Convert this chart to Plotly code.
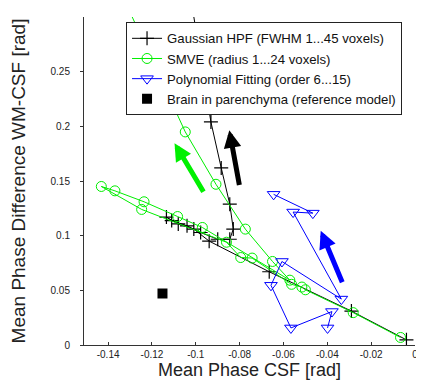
import plotly.graph_objects as go

# Gaussian HPF (FWHM 1...45 voxels)
gauss_x = [-0.0039, -0.0290, -0.0665, -0.0939, -0.1009, -0.1080, -0.1134, -0.1110, -0.1040,
           -0.0978, -0.0900, -0.0845, -0.0829, -0.0845, -0.0884, -0.0931, -0.1017]
gauss_y = [0.0047, 0.0310, 0.0670, 0.0950, 0.1060, 0.1107, 0.1170, 0.1138, 0.1090,
           0.1029, 0.0967, 0.0967, 0.1060, 0.1288, 0.1620, 0.2040, 0.3100]

# SMVE (radius 1...24 voxels)
smve_x = [-0.0066, -0.0282, -0.0500, -0.0516, -0.0563, -0.0743, -0.0795, -0.0860, -0.1247,
          -0.1431, -0.1369, -0.1236, -0.1083, -0.0970, -0.0571, -0.0650, -0.0774, -0.0908,
          -0.1048, -0.1313]
smve_y = [0.0069, 0.0296, 0.0505, 0.0530, 0.0555, 0.0795, 0.0800, 0.0940, 0.1240,
          0.1450, 0.1410, 0.1310, 0.1175, 0.1075, 0.0593, 0.0764, 0.1060, 0.1470,
          0.1949, 0.3100]

# Polynomial Fitting (order 6...15)
poly_x = [-0.0399, -0.0379, -0.0566, -0.0657, -0.0607, -0.0336, -0.0556, -0.0466, -0.0645]
poly_y = [0.0156, 0.0306, 0.0156, 0.0546, 0.0764, 0.0420, 0.1216, 0.1206, 0.1378]

# Brain in parenchyma (reference model)
ref_x = [-0.1152]
ref_y = [0.0471]

# Direction arrows: tail -> head
arrow_tail_x = [-0.0800, -0.0961, -0.0329]
arrow_tail_y = [0.1450, 0.1388, 0.0561]
arrow_head_x = [-0.0847, -0.1097, -0.0430]
arrow_head_y = [0.1964, 0.1846, 0.1044]
arrow_colors = ["#000000", "#00f000", "#0000ff"]

x_tickvals = [-0.14, -0.12, -0.1, -0.08, -0.06, -0.04, -0.02, 0]
x_ticktext = ["-0.14", "-0.12", "-0.1", "-0.08", "-0.06", "-0.04", "-0.02", "0"]
y_tickvals = [0, 0.05, 0.1, 0.15, 0.2, 0.25]
y_ticktext = ["0", "0.05", "0.1", "0.15", "0.2", "0.25"]

FONT = "Liberation Sans, Arial, sans-serif"

fig = go.Figure()
fig.add_trace(go.Scatter(
    x=gauss_x, y=gauss_y, mode="lines+markers", name="Gaussian HPF (FWHM 1...45 voxels)",
    line=dict(color="#000000", width=1),
    marker=dict(symbol="cross-thin", size=10, line=dict(color="#000000", width=1.2))))
fig.add_trace(go.Scatter(
    x=smve_x, y=smve_y, mode="lines+markers", name="SMVE (radius 1...24 voxels)",
    line=dict(color="#00ee00", width=1),
    marker=dict(symbol="circle-open", size=10, color="#00ee00", line=dict(width=1))))
fig.add_trace(go.Scatter(
    x=poly_x, y=poly_y, mode="lines+markers", name="Polynomial Fitting (order 6...15)",
    line=dict(color="#0000ff", width=1),
    marker=dict(symbol="triangle-down-open", size=11, color="#0000ff", line=dict(width=1))))
fig.add_trace(go.Scatter(
    x=ref_x, y=ref_y, mode="markers", name="Brain in parenchyma (reference model)",
    marker=dict(symbol="square", size=10, color="#000000")))

for tx, ty, hx, hy, c in zip(arrow_tail_x, arrow_tail_y, arrow_head_x, arrow_head_y, arrow_colors):
    fig.add_annotation(x=hx, y=hy, ax=tx, ay=ty, xref="x", yref="y", axref="x", ayref="y",
                       text="", showarrow=True, arrowhead=2, arrowsize=0.7, arrowwidth=5,
                       arrowcolor=c, standoff=0, startstandoff=0)

# page body has an 8px margin, so the figure is 8px smaller than the window
fig.update_layout(
    width=416, height=372,
    margin=dict(l=76, r=9, t=9, b=35, autoexpand=False),
    paper_bgcolor="white", plot_bgcolor="white",
    font=dict(family=FONT, color="#222222"),
    showlegend=True,
    legend=dict(x=0.127, y=0.984, xanchor="left", yanchor="top",
                bgcolor="white", bordercolor="#222222", borderwidth=1,
                font=dict(family=FONT, size=13.2, color="#111111"),
                tracegroupgap=0),
    xaxis=dict(range=[-0.151, 0], showgrid=False, zeroline=False, automargin=False,
               showline=True, linecolor="#333333", linewidth=1,
               ticks="inside", ticklen=3, tickcolor="#333333",
               tickvals=x_tickvals, ticktext=x_ticktext,
               tickfont=dict(size=10, color="#222222"),
               title=dict(text="Mean Phase CSF [rad]", font=dict(size=18, color="#222222"), standoff=12)),
    yaxis=dict(range=[0, 0.3], showgrid=False, zeroline=False, automargin=False,
               showline=True, linecolor="#333333", linewidth=1,
               ticks="outside", ticklen=3, tickcolor="#333333",
               tickvals=y_tickvals, ticktext=y_ticktext, ticklabelstandoff=8,
               tickfont=dict(size=10, color="#222222"),
               title=dict(text="Mean Phase Difference WM-CSF [rad]", font=dict(size=19, color="#222222"), standoff=35)),
)

fig.write_html("out.html")
